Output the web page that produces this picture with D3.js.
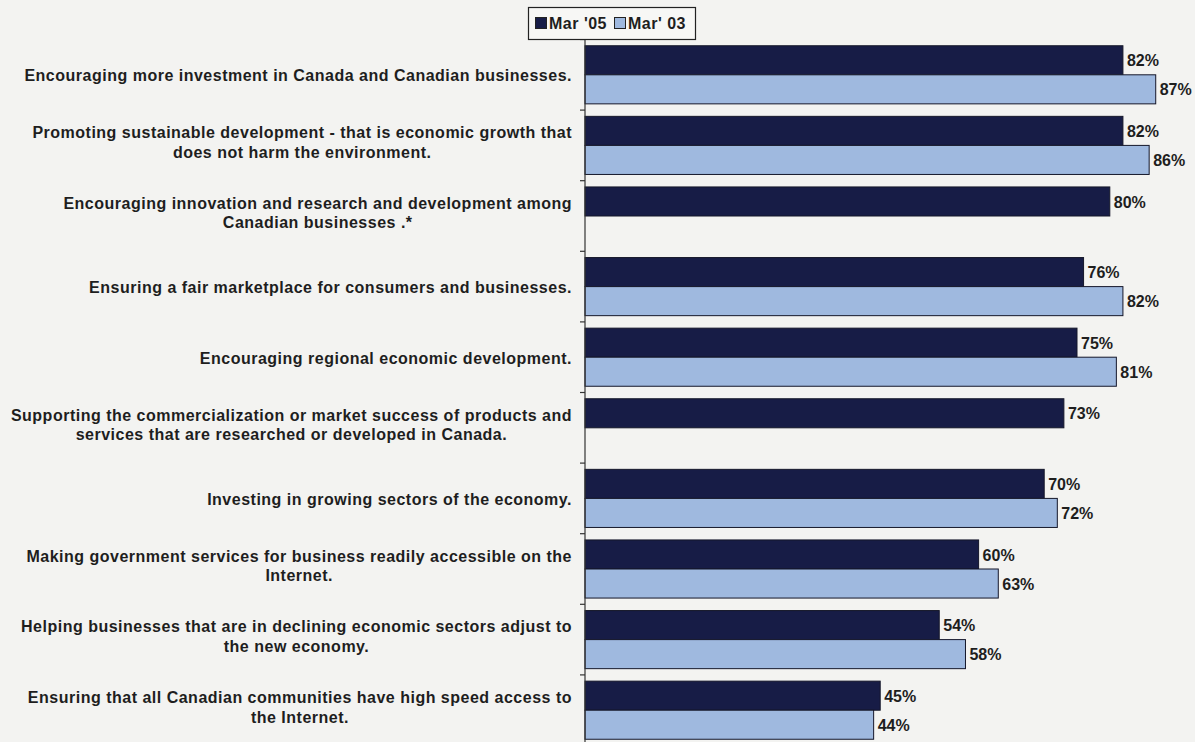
<!DOCTYPE html>
<html>
<head>
<meta charset="utf-8">
<script src="https://cdn.jsdelivr.net/npm/d3@7"></script>
<style>
  html, body { margin: 0; padding: 0; background: #f3f3f1; }
  svg { display: block; }
  text { font-family: "Liberation Sans", Arial, sans-serif; font-weight: bold; fill: #1e1e1e; }
</style>
</head>
<body>
<svg id="chart" width="1195" height="742"></svg>
<script>
// Priorities (lines of each label separated by "|")
const categories = [
  "Encouraging more investment in Canada and Canadian businesses.",
  "Promoting sustainable development - that is economic growth that|does not harm the environment.",
  "Encouraging innovation and research and development among|Canadian businesses .*",
  "Ensuring a fair marketplace for consumers and businesses.",
  "Encouraging regional economic development.",
  "Supporting the commercialization or market success of products and|services that are researched or developed in Canada.",
  "Investing in growing sectors of the economy.",
  "Making government services for business readily accessible on the|Internet.",
  "Helping businesses that are in declining economic sectors adjust to|the new economy.",
  "Ensuring that all Canadian communities have high speed access to|the Internet."
];
const seriesNames = ["Mar '05", "Mar' 03"];
const mar05 = [82, 82, 80, 76, 75, 73, 70, 60, 54, 45];
const mar03 = [87, 86, null, 82, 81, null, 72, 63, 58, 44];
const seriesColors = ["#171c46", "#9fb9df"];

const svg = d3.select("#chart");

const x = d3.scaleLinear().domain([0, 100]).range([585, 1241]);
const y = d3.scaleBand().domain(d3.range(categories.length)).range([39.5, 745.5]).paddingInner(0).paddingOuter(0);
const ySub = d3.scaleBand().domain([0, 1]).range([0, y.bandwidth()]).paddingInner(0).paddingOuter(0.215);

const rows = categories.map((c, i) => ({ i, lines: c.split("|"), vals: [mar05[i], mar03[i]] }));

// bars
const groups = svg.append("g").selectAll("g.cat").data(rows).join("g")
  .attr("class", "cat")
  .attr("transform", d => `translate(0,${y(d.i)})`);

groups.selectAll("rect").data(d => d.vals.map((v, s) => ({ v, s })).filter(e => e.v != null)).join("rect")
  .attr("x", x(0))
  .attr("y", e => ySub(e.s))
  .attr("width", e => x(e.v) - x(0))
  .attr("height", ySub.bandwidth())
  .attr("fill", e => seriesColors[e.s])
  .attr("stroke", "#15172a")
  .attr("stroke-width", 1);

groups.selectAll("text.val").data(d => d.vals.map((v, s) => ({ v, s })).filter(e => e.v != null)).join("text")
  .attr("class", "val")
  .attr("x", e => x(e.v) + 4)
  .attr("y", e => ySub(e.s) + ySub.bandwidth() / 2)
  .attr("dy", "0.38em")
  .attr("font-size", 16)
  .text(e => e.v + "%");

// category axis
const axis = svg.append("g").attr("transform", `translate(${x(0)},0)`);
axis.append("line").attr("x1", 0).attr("x2", 0).attr("y1", 40).attr("y2", 742)
  .attr("stroke", "#333").attr("stroke-width", 1.2);
axis.selectAll("line.tick").data(d3.range(categories.length + 1)).join("line")
  .attr("class", "tick")
  .attr("x1", -5).attr("x2", 0)
  .attr("y1", i => 39.5 + i * y.step()).attr("y2", i => 39.5 + i * y.step())
  .attr("stroke", "#333").attr("stroke-width", 1.2);

// category labels: lines centred on each other, block right-aligned to the axis
const labelRight = 572;
const lineH = 19.5;
groups.each(function (d) {
  const g = d3.select(this);
  const t = g.append("text").attr("font-size", 16).attr("letter-spacing", 0.5).attr("text-anchor", "middle");
  const spans = t.selectAll("tspan").data(d.lines).join("tspan").text(s => s);
  const widths = [];
  spans.each(function () { widths.push(this.getComputedTextLength()); });
  const maxW = d3.max(widths);
  const cx = labelRight - maxW / 2;
  const n = d.lines.length;
  const mid = y.bandwidth() / 2 - (n > 1 ? 4 : 0) + 1;
  spans.attr("x", cx)
    .attr("y", (s, k) => mid + (k - (n - 1) / 2) * lineH)
    .attr("dy", "0.35em");
});

// legend
const legend = svg.append("g");
legend.append("rect").attr("x", 528.5).attr("y", 7.5).attr("width", 167).attr("height", 32)
  .attr("fill", "#f7f7f5").attr("stroke", "#222").attr("stroke-width", 1.2);
const legendX = [535, 614];
seriesNames.forEach((name, s) => {
  legend.append("rect").attr("x", legendX[s] + 0.5).attr("y", 17.5).attr("width", 11).attr("height", 11)
    .attr("fill", seriesColors[s]).attr("stroke", "#222").attr("stroke-width", 1);
  legend.append("text").attr("x", legendX[s] + 14).attr("y", 23.5).attr("dy", "0.35em")
    .attr("font-size", 16).attr("letter-spacing", 0.5).text(name);
});
</script>
</body>
</html>
